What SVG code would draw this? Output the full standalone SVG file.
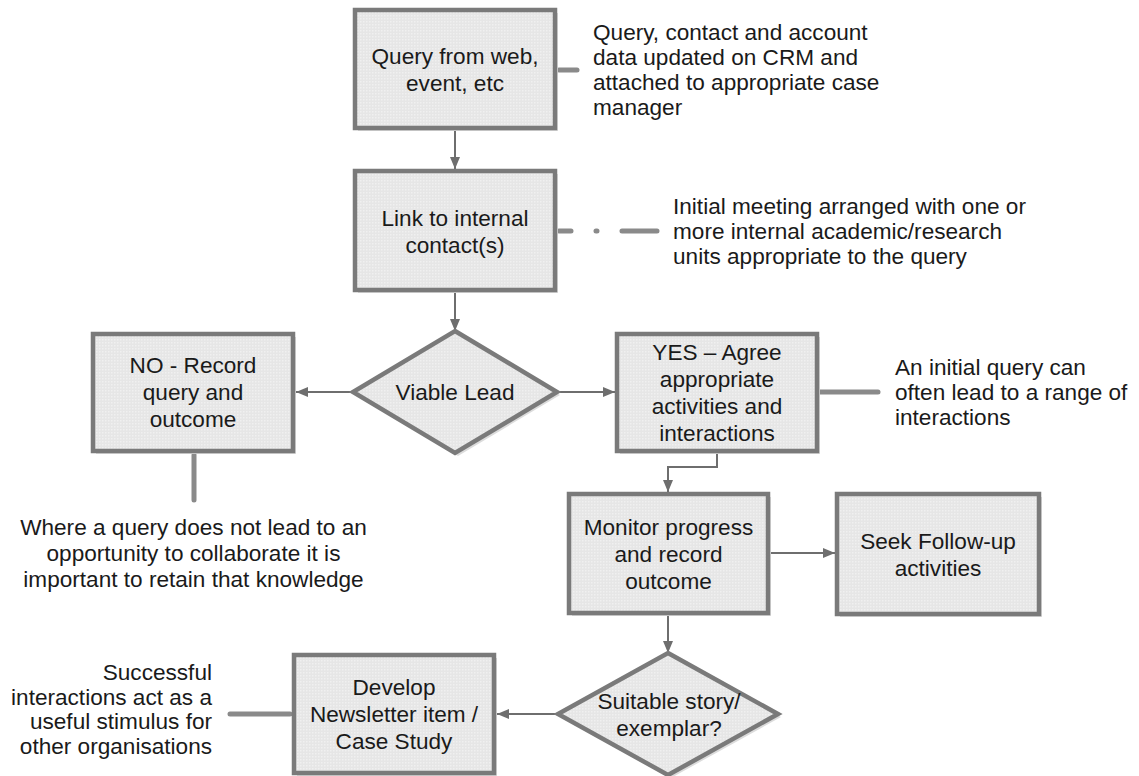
<svg xmlns="http://www.w3.org/2000/svg" width="1139" height="776" viewBox="0 0 1139 776">
<style>
.shape{fill:url(#dots);stroke:#7a7a7a;stroke-width:4.5;stroke-linejoin:miter}
.shadow{fill:#dcdcdc;stroke:none}
.t{font-family:"Liberation Sans",Arial,sans-serif;font-size:22.6px;fill:#1a1a1a}
.c{text-anchor:middle}
.r{text-anchor:end}
.conn{fill:none;stroke:#6e6e6e;stroke-width:2}
.note{fill:none;stroke:#8a8a8a;stroke-width:5;stroke-linecap:round}
</style>
<defs>
<pattern id="dots" width="3" height="3" patternUnits="userSpaceOnUse">
<rect width="3" height="3" fill="#e6e6e6"/>
<rect width="1.5" height="1.5" fill="#f0f0f0"/>
</pattern>
<marker id="arr" viewBox="0 0 12 10" refX="12" refY="5" markerWidth="12" markerHeight="10" markerUnits="userSpaceOnUse" orient="auto">
<path d="M0,0 L12,5 L0,10 z" fill="#6e6e6e"/>
</marker>
</defs>
<rect width="1139" height="776" fill="#ffffff"/>

<g id="connectors">
<path class="conn" d="M455,131 L455,169" marker-end="url(#arr)"/>
<path class="conn" d="M455,293 L455,331" marker-end="url(#arr)"/>
<path class="conn" d="M353,392 L296,392" marker-end="url(#arr)"/>
<path class="conn" d="M557,392 L615,392" marker-end="url(#arr)"/>
<path class="conn" d="M717,453 L717,467 L668,467 L668,492" marker-end="url(#arr)"/>
<path class="conn" d="M770,553 L835,553" marker-end="url(#arr)"/>
<path class="conn" d="M668,615 L668,653" marker-end="url(#arr)"/>
<path class="conn" d="M558,714 L497,714" marker-end="url(#arr)"/>
<path class="note" d="M559,70 L577,70"/>
<path class="note" d="M559,231 L571,231 M596,231 L597,231 M622,231 L657,231"/>
<path class="note" d="M820,392 L878,392"/>
<path class="note" d="M194,455 L194,500"/>
<path class="note" d="M290,714 L230,714"/>
</g>

<g id="n1">
<rect class="shadow" x="358" y="13" width="200" height="118"/>
<rect class="shape" x="355" y="10" width="200" height="118"/>
<text class="t c" x="455" y="63.5">Query from web,</text>
<text class="t c" x="455" y="90.5">event, etc</text>
</g>
<g id="n2">
<rect class="shadow" x="358" y="174" width="200" height="119"/>
<rect class="shape" x="355" y="171" width="200" height="119"/>
<text class="t c" x="455" y="225.5">Link to internal</text>
<text class="t c" x="455" y="252.5">contact(s)</text>
</g>
<g id="d1">
<polygon class="shadow" points="458,334 560,395 458,456 356,395"/>
<polygon class="shape" points="455,331 557,392 455,453 353,392"/>
<text class="t c" x="455" y="400">Viable Lead</text>
</g>
<g id="nNo">
<rect class="shadow" x="96" y="337" width="200" height="117"/>
<rect class="shape" x="93" y="334" width="200" height="117"/>
<text class="t c" x="193" y="373">NO - Record</text>
<text class="t c" x="193" y="400">query and</text>
<text class="t c" x="193" y="427">outcome</text>
</g>
<g id="nYes">
<rect class="shadow" x="620" y="337" width="200" height="117"/>
<rect class="shape" x="617" y="334" width="200" height="117"/>
<text class="t c" x="717" y="359.5">YES – Agree</text>
<text class="t c" x="717" y="386.5">appropriate</text>
<text class="t c" x="717" y="413.5">activities and</text>
<text class="t c" x="717" y="440.5">interactions</text>
</g>
<g id="nMonitor">
<rect class="shadow" x="572" y="497" width="199" height="119"/>
<rect class="shape" x="569" y="494" width="199" height="119"/>
<text class="t c" x="668.5" y="535">Monitor progress</text>
<text class="t c" x="668.5" y="562">and record</text>
<text class="t c" x="668.5" y="589">outcome</text>
</g>
<g id="nSeek">
<rect class="shadow" x="840" y="497" width="202" height="120"/>
<rect class="shape" x="837" y="494" width="202" height="120"/>
<text class="t c" x="938" y="548.5">Seek Follow-up</text>
<text class="t c" x="938" y="575.5">activities</text>
</g>
<g id="d2">
<polygon class="shadow" points="671,656 781,717 671,778 561,717"/>
<polygon class="shape" points="668,653 778,714 668,775 558,714"/>
<text class="t c" x="669" y="708.5">Suitable story/</text>
<text class="t c" x="669" y="735.5">exemplar?</text>
</g>
<g id="nDevelop">
<rect class="shadow" x="297" y="658" width="200" height="118"/>
<rect class="shape" x="294" y="655" width="200" height="118"/>
<text class="t c" x="394" y="695">Develop</text>
<text class="t c" x="394" y="722">Newsletter item /</text>
<text class="t c" x="394" y="749">Case Study</text>
</g>

<g id="notes">
<text class="t" x="593" y="39.5">Query, contact and account</text>
<text class="t" x="593" y="64.5">data updated on CRM and</text>
<text class="t" x="593" y="89.5">attached to appropriate case</text>
<text class="t" x="593" y="114.5">manager</text>
<text class="t" x="673" y="214">Initial meeting arranged with one or</text>
<text class="t" x="673" y="239">more internal academic/research</text>
<text class="t" x="673" y="264">units appropriate to the query</text>
<text class="t" x="895" y="375">An initial query can</text>
<text class="t" x="895" y="400">often lead to a range of</text>
<text class="t" x="895" y="425">interactions</text>
<text class="t c" x="193.5" y="535">Where a query does not lead to an</text>
<text class="t c" x="193.5" y="561">opportunity to collaborate it is</text>
<text class="t c" x="193.5" y="587">important to retain that knowledge</text>
<text class="t r" x="212" y="680">Successful</text>
<text class="t r" x="212" y="705">interactions act as a</text>
<text class="t r" x="212" y="729">useful stimulus for</text>
<text class="t r" x="212" y="754">other organisations</text>
</g>
</svg>
